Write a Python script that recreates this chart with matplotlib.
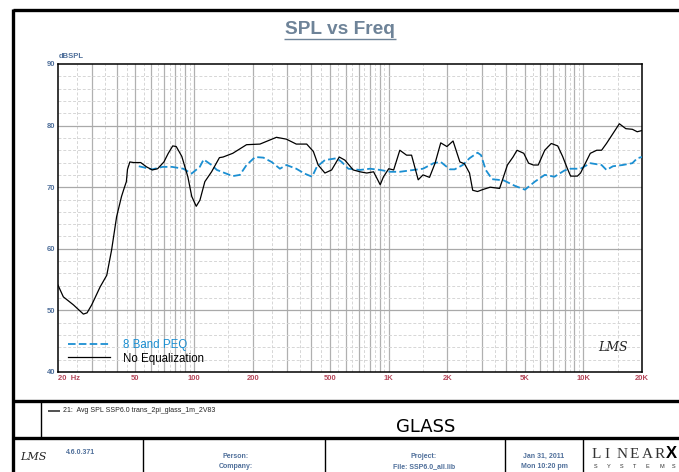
import matplotlib
matplotlib.use('Agg')
import matplotlib.pyplot as plt
from matplotlib.lines import Line2D
import numpy as np

plt.rcParams['font.family'] = ['Liberation Sans', 'DejaVu Sans']

# ---- data ----
noeq_freq = [20, 21.3, 24.0, 27.0, 28.2, 29.8, 32.9, 35.6, 37.7, 40.0, 42.4, 43.7, 44.9,
             45.5, 46.8, 49.0, 53.2, 57.0, 61.0, 65, 70, 73.7, 77.7, 81, 86.5, 92.9,
             97.3, 102.6, 107.2, 113.6, 123, 135, 141, 158, 186, 218, 265, 298, 335,
             379, 410, 434, 470, 509, 557, 595, 657, 712, 771, 836, 904, 940, 1000,
             1060, 1140, 1235, 1310, 1417, 1500, 1620, 1730, 1850, 1990, 2140, 2320,
             2450, 2600, 2700, 2860, 3030, 3320, 3710, 3860, 4070, 4350, 4560, 4940,
             5230, 5530, 5860, 6330, 6840, 7380, 7820, 8280, 8600, 9310, 9670, 10240,
             10850, 11710, 12400, 13140, 14180, 15300, 16520, 17840, 18900, 20000]
noeq_spl = [54.1, 52.2, 50.9, 49.4, 49.6, 50.9, 53.8, 55.7, 59.8, 65.2, 68.5, 69.8, 70.9,
            72.9, 74.1, 74.0, 74.0, 73.3, 72.8, 73.0, 74.1, 75.5, 76.7, 76.6, 75.0, 71.7,
            68.5, 66.9, 67.9, 70.9, 72.5, 74.8, 74.9, 75.5, 76.9, 77.0, 78.1, 77.8, 77.0,
            77.0, 75.8, 73.6, 72.3, 72.8, 74.9, 74.4, 72.8, 72.5, 72.3, 72.5, 70.4, 71.7, 73.0,
            72.8, 76.0, 75.2, 75.2, 71.2, 72.0, 71.6, 73.9, 77.2, 76.6, 77.5, 74.1,
            73.8, 72.3, 69.5, 69.3, 69.6, 70.0, 69.8, 71.4, 73.6, 74.9, 76.0, 75.5,
            73.9, 73.6, 73.6, 76.0, 77.1, 76.7, 75.0, 73.0, 71.8, 71.8, 72.3, 73.9,
            75.5, 76.0, 76.0, 77.1, 78.7, 80.3, 79.5, 79.4, 79.0, 79.2]

peq_freq = [52, 61, 69, 77, 88, 97, 107, 112, 123, 131, 158, 172, 186, 206, 227, 250,
            276, 298, 335, 370, 404, 427, 470, 540, 573, 620, 712, 802, 904, 1020,
            1140, 1340, 1500, 1700, 1850, 2060, 2180, 2400, 2600, 2860, 2980, 3150,
            3400, 3900, 4460, 5010, 5630, 6330, 7100, 7980, 8600, 9670, 10850, 12400,
            13140, 14180, 15900, 17840, 18900, 20000]
peq_spl = [73.4, 72.9, 73.3, 73.3, 73.0, 72.2, 73.3, 74.5, 73.6, 72.8, 71.8, 72.0, 73.6,
           74.9, 74.8, 74.1, 73.0, 73.6, 73.0, 72.2, 71.7, 73.3, 74.4, 74.7, 74.1, 73.0,
           72.8, 73.0, 72.8, 72.5, 72.5, 72.8, 73.0, 73.9, 74.1, 72.9, 72.9, 73.6,
           74.7, 75.6, 75.2, 72.8, 71.3, 71.1, 70.2, 69.6, 70.9, 72.0, 71.7, 72.7,
           73.0, 73.0, 73.9, 73.6, 72.8, 73.4, 73.6, 73.9, 74.7, 74.9]

x_ticks = [20, 50, 100, 200, 500, 1000, 2000, 5000, 10000, 20000]
x_labels = ['20  Hz', '50', '100', '200', '500', '1K', '2K', '5K', '10K', '20K']
y_ticks = [40, 50, 60, 70, 80, 90]

W, H = 679, 472
tick_blue = '#4f6f9a'
tick_red = '#b5475a'
peq_blue = '#1b8fd2'


def fx(px):
    return px / W


def fy(py):
    return 1 - py / H


def fline(x0, y0, x1, y1, lw=1.0, color='black'):
    fig.add_artist(Line2D([fx(x0), fx(x1)], [fy(y0), fy(y1)],
                          transform=fig.transFigure, color=color, lw=lw,
                          solid_capstyle='butt'))


fig = plt.figure(figsize=(W / 100, H / 100), dpi=100)
ax = fig.add_axes([fx(58), fy(372), (642 - 58) / W, (372 - 64) / H])

ax.set_xscale('log')
ax.set_xlim(20, 20000)
ax.set_ylim(40, 90)

# LMS style grid: solid at k*decade, dashed at (k+0.5)*decade, 2 dB dashed rows
for dec in [10, 100, 1000, 10000]:
    for k in range(1, 10):
        f = k * dec
        if 20 < f < 20000:
            ax.axvline(f, color='#b0b0b0', lw=0.9, zorder=1)
        fh = (k + 0.5) * dec
        if 20 < fh < 20000:
            ax.axvline(fh, color='#d6d6d6', lw=0.7, ls=(0, (3, 2)), zorder=1)
for db in range(42, 90, 2):
    if db % 10 == 0:
        ax.axhline(db, color='#a9a9a9', lw=0.9, zorder=1)
    else:
        ax.axhline(db, color='#d6d6d6', lw=0.7, ls=(0, (3, 2)), zorder=1)

ax.plot(peq_freq, peq_spl, color=peq_blue, lw=1.3, ls=(0, (4.2, 1.8)), zorder=3,
        label='8 Band PEQ')
ax.plot(noeq_freq, noeq_spl, color='black', lw=0.9, zorder=4, label='No Equalization')

ax.set_xticks(x_ticks)
ax.set_xticklabels(x_labels)
ax.minorticks_off()
ax.set_yticks(y_ticks)
ax.tick_params(length=0, pad=2)
for lab in ax.get_xticklabels():
    lab.set_color(tick_red)
    lab.set_fontsize(5.5)
    lab.set_fontweight('bold')
ax.get_xticklabels()[0].set_horizontalalignment('left')
for lab in ax.get_yticklabels():
    lab.set_color(tick_blue)
    lab.set_fontsize(5.5)
    lab.set_fontweight('bold')
for sp in ax.spines.values():
    sp.set_linewidth(1.1)
    sp.set_color('black')

leg = ax.legend(loc='lower left', frameon=False, fontsize=8.3, handlelength=3.6,
                handletextpad=1.1, borderaxespad=0.25, labelspacing=0.12,
                bbox_to_anchor=(0.005, 0.0))
leg.get_texts()[0].set_color(peq_blue)

ax.text(0.975, 0.06, 'LMS', transform=ax.transAxes, ha='right', va='bottom',
        fontsize=9, style='italic', family='DejaVu Serif', color='#222222')

# ---- title block ----
fig.text(fx(340), fy(29), 'SPL vs Freq', ha='center', va='center', fontsize=13.8,
         fontweight='bold', color='#6e8398')
fline(284, 39, 396, 39, lw=1.0, color='#6e8398')
fig.text(fx(59), fy(56), 'dBSPL', ha='left', va='center', fontsize=5.5,
         fontweight='bold', color=tick_blue)

# ---- page frame ----
fline(13, 10, W + 2, 10, lw=2.4)
fline(13, 8.5, 13, H + 2, lw=2.4)
fline(13, 401, W + 2, 401, lw=2.4)
fline(13, 438, W + 2, 438, lw=2.4)
fline(41, 401, 41, 438, lw=1.0)
for xd in [143, 325, 505, 583]:
    fline(xd, 438, xd, H + 2, lw=1.0)

# ---- legend row ----
fline(48, 411, 60, 411, lw=1.2, color='#333333')
fig.text(fx(63), fy(411), '21:  Avg SPL SSP6.0 trans_2pi_glass_1m_2V83', ha='left',
         va='center', fontsize=5, color='#222222')
fig.text(fx(426), fy(427), 'GLASS', ha='center', va='center', fontsize=13,
         family='Liberation Sans Narrow', color='black')

# ---- info row ----
fig.text(fx(33), fy(457), 'LMS', ha='center', va='center', fontsize=8, style='italic',
         family='DejaVu Serif', color='#222222')
fig.text(fx(66), fy(452), '4.6.0.371', ha='left', va='center', fontsize=5,
         fontweight='bold', color=tick_blue)
fig.text(fx(236), fy(456), 'Person:', ha='center', va='center', fontsize=5,
         fontweight='bold', color=tick_blue)
fig.text(fx(236), fy(467), 'Company:', ha='center', va='center', fontsize=5,
         fontweight='bold', color=tick_blue)
fig.text(fx(424), fy(456), 'Project:', ha='center', va='center', fontsize=5,
         fontweight='bold', color=tick_blue)
fig.text(fx(424), fy(467), 'File: SSP6.0_all.lib', ha='center', va='center',
         fontsize=5, fontweight='bold', color=tick_blue)
fig.text(fx(544), fy(456), 'Jan 31, 2011', ha='center', va='center', fontsize=5,
         fontweight='bold', color=tick_blue)
fig.text(fx(544), fy(467), 'Mon 10:20 pm', ha='center', va='center', fontsize=5,
         fontweight='bold', color=tick_blue)
for i, ch in enumerate('LINEAR'):
    fig.text(fx(592 + i * 12.5), fy(455), ch, ha='left', va='center', fontsize=11,
             family='Liberation Serif', color='#333333')
fig.text(fx(666), fy(454), 'X', ha='left', va='center', fontsize=12,
         fontweight='bold', color='black')
for i, ch in enumerate('SYSTEMS'):
    fig.text(fx(594 + i * 13), fy(467), ch, ha='left', va='center', fontsize=4,
             color='#333333')

fig.savefig('out.png', dpi=100)
